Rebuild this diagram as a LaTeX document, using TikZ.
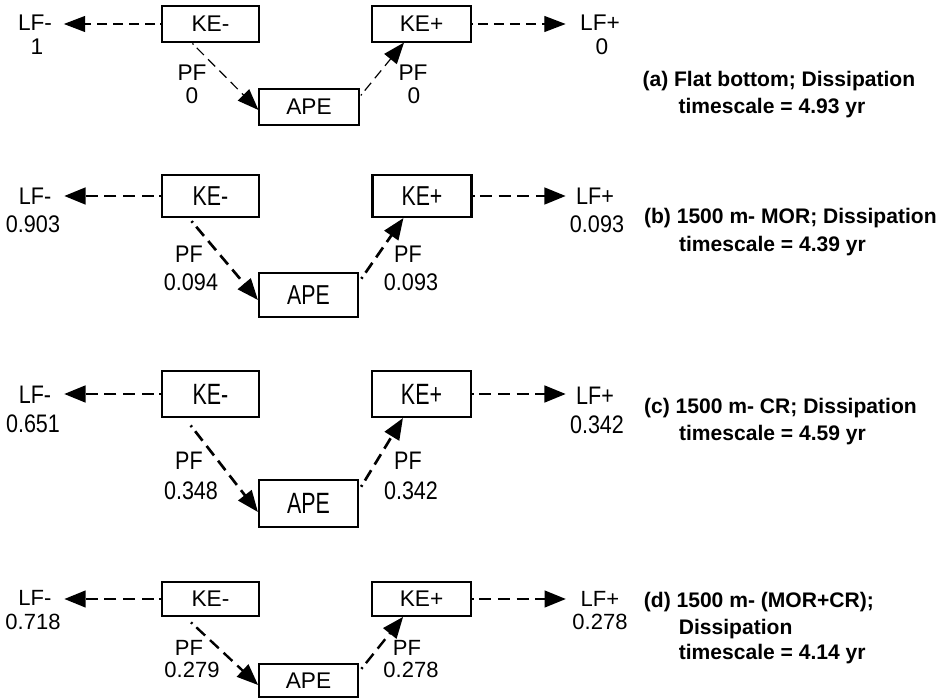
\documentclass[tikz,border=0pt]{standalone}
\usepackage{fontspec}
\setmainfont{Liberation Sans}
\newfontfamily\bboxf[FakeStretch=0.78]{Liberation Sans}
\newfontfamily\blabf[FakeStretch=0.9]{Liberation Sans}
\newfontfamily\cboxf[FakeStretch=0.73]{Liberation Sans}
\newfontfamily\clabf[FakeStretch=0.85]{Liberation Sans}
\usetikzlibrary{arrows.meta}
\tikzset{
  box/.style={draw, rectangle, inner sep=0pt},
  lab/.style={inner sep=0pt},
  capt/.style={inner sep=0pt, anchor=base west, font=\bfseries\fontsize{15.8pt}{19pt}\selectfont},
  flowdash/.style={dash pattern=on 1.2pt off 3.5pt on 7.5pt off 4.5pt on 7.5pt off 4.5pt on 7.5pt off 4.5pt on 7.5pt off 4.5pt on 7.5pt off 4.5pt on 7.5pt off 4.5pt on 7.5pt off 4.5pt on 7.5pt off 4.5pt},
  flowdashb/.style={dash pattern=on 1.5pt off 4pt on 9pt off 5pt on 9pt off 5pt on 9pt off 5pt on 9pt off 5pt on 9pt off 5pt on 9pt off 5pt on 9pt off 5pt on 9pt off 5pt},
  flow/.style={flowdash, -{Triangle[length=16pt,width=12pt]}},
  flowb/.style={flowdashb, -{Triangle[length=16pt,width=12.5pt]}},
  afont/.style={font=\fontsize{17pt}{20pt}\selectfont},
  aboxfont/.style={font=\fontsize{17pt}{20pt}\selectfont},
  bfont/.style={font=\blabf\fontsize{18pt}{22pt}\selectfont},
  bboxfont/.style={font=\bboxf\fontsize{20.5pt}{24pt}\selectfont},
  cfont/.style={font=\clabf\fontsize{19pt}{22pt}\selectfont},
  cboxfont/.style={font=\cboxf\fontsize{22pt}{25pt}\selectfont},
  dfont/.style={font=\fontsize{16.5pt}{20pt}\selectfont},
  dboxfont/.style={font=\fontsize{17pt}{20pt}\selectfont},
}
\begin{document}
\begin{tikzpicture}[x=0.75pt,y=-0.75pt]
\useasboundingbox (0,0) rectangle (947,698);

% ---------------- panel (a)
\begin{scope}[line width=0.8pt]
\node[box, aboxfont, minimum width=72.75pt, minimum height=27pt] (aKEm) at (210.5,24) {KE-};
\node[box, aboxfont, minimum width=74.25pt, minimum height=27pt] (aKEp) at (421.5,24) {KE+};
\node[box, aboxfont, minimum width=75pt, minimum height=27pt] (aAPE) at (309,107) {APE};
\node[lab, afont] (aLFm) at (35,23) {LF-};
\node[lab, afont] (aLFmv) at (37,47) {1};
\node[lab, afont] (aLFp) at (600,23) {LF+};
\node[lab, afont] (aLFpv) at (602,47) {0};
\node[lab, afont] (aPFl) at (192,73) {PF};
\node[lab, afont] (aPFlv) at (192,96) {0};
\node[lab, afont] (aPFr) at (413,73) {PF};
\node[lab, afont] (aPFrv) at (414,96) {0};
\draw[flow, line width=0.9pt, shorten >=8.5pt] (aKEm.west) -- (aKEm.west -| aLFm.east);
\draw[flow, line width=0.9pt, shorten >=10.5pt] (aKEp.east) -- (aKEp.east -| aLFp.west);
\draw[flow, line width=0.9pt, shorten <=1pt] ([xshift=22.5pt]aKEm.south west) -- ([yshift=-2.25pt]aAPE.west);
\draw[flow, line width=0.9pt, shorten <=1.5pt] ([yshift=7.5pt]aAPE.east) -- ([xshift=24.4pt]aKEp.south west);
\node[capt] (acap1) at (642,86.5) {(a) Flat bottom; Dissipation};
\node[capt] (acap2) at (678,113.5) {timescale = 4.93 yr};
\end{scope}

% ---------------- panel (b)
\begin{scope}[line width=1.6pt]
\node[box, bboxfont, minimum width=72.75pt, minimum height=31.5pt] (bKEm) at (210.5,196) {KE-};
\node[box, bboxfont, minimum width=74.25pt, minimum height=31.5pt] (bKEp) at (422,196) {KE+};
\node[box, bboxfont, minimum width=74.25pt, minimum height=33pt] (bAPE) at (308.5,295) {APE};
\node[lab, bfont] (bLFm) at (35,196) {LF-};
\node[lab, bfont] (bLFmv) at (33,224) {0.903};
\node[lab, bfont] (bLFp) at (595,196) {LF+};
\node[lab, bfont] (bLFpv) at (597,224) {0.093};
\node[lab, bfont] (bPFl) at (189,254) {PF};
\node[lab, bfont] (bPFlv) at (191,282) {0.094};
\node[lab, bfont] (bPFr) at (408,254) {PF};
\node[lab, bfont] (bPFrv) at (411,282) {0.093};
\draw[flowb, line width=2pt, shorten >=9pt] (bKEm.west) -- (bKEm.west -| bLFm.east);
\draw[flowb, line width=2pt, shorten >=7pt] (bKEp.east) -- (bKEp.east -| bLFp.west);
\draw[flowb, line width=2pt, shorten <=3pt] ([xshift=21pt]bKEm.south west) -- ([yshift=-3.75pt]bAPE.west);
\draw[flowb, line width=2pt, shorten <=3pt] ([yshift=9.75pt]bAPE.east) -- ([xshift=24pt]bKEp.south west);
\node[capt] (bcap1) at (643,223.5) {(b) 1500 m- MOR; Dissipation};
\node[capt] (bcap2) at (678,251.5) {timescale = 4.39 yr};
\end{scope}

% ---------------- panel (c)
\begin{scope}[line width=1.6pt]
\node[box, cboxfont, minimum width=72.75pt, minimum height=34.5pt] (cKEm) at (210.5,394) {KE-};
\node[box, cboxfont, minimum width=74.25pt, minimum height=34.5pt] (cKEp) at (421.5,394) {KE+};
\node[box, cboxfont, minimum width=74.25pt, minimum height=35.25pt] (cAPE) at (308.5,503.5) {APE};
\node[lab, cfont] (cLFm) at (35,395) {LF-};
\node[lab, cfont] (cLFmv) at (33,424) {0.651};
\node[lab, cfont] (cLFp) at (595,396) {LF+};
\node[lab, cfont] (cLFpv) at (597,425) {0.342};
\node[lab, cfont] (cPFl) at (189,461) {PF};
\node[lab, cfont] (cPFlv) at (191,491) {0.348};
\node[lab, cfont] (cPFr) at (408,461) {PF};
\node[lab, cfont] (cPFrv) at (411,491) {0.342};
\draw[flowb, line width=2pt, shorten >=9pt] (cKEm.west) -- (cKEm.west -| cLFm.east);
\draw[flowb, line width=2pt, shorten >=7pt] (cKEp.east) -- (cKEp.east -| cLFp.west);
\draw[flowb, line width=2pt, shorten <=7pt] ([xshift=18pt]cKEm.south west) -- ([yshift=-6.4pt]cAPE.west);
\draw[flowb, line width=2pt, shorten <=3pt] ([yshift=10pt]cAPE.east) -- ([xshift=24pt]cKEp.south west);
\node[capt] (ccap1) at (643,414) {(c) 1500 m- CR; Dissipation};
\node[capt] (ccap2) at (678,441) {timescale = 4.59 yr};
\end{scope}

% ---------------- panel (d)
\begin{scope}[line width=1.3pt]
\node[box, dboxfont, minimum width=72.75pt, minimum height=25.5pt] (dKEm) at (210.5,599) {KE-};
\node[box, dboxfont, minimum width=74.25pt, minimum height=25.5pt] (dKEp) at (421.5,599) {KE+};
\node[box, dboxfont, minimum width=74.25pt, minimum height=24.75pt] (dAPE) at (308.5,680.5) {APE};
\node[lab, dfont] (dLFm) at (35,598) {LF-};
\node[lab, dfont] (dLFmv) at (33,622) {0.718};
\node[lab, dfont] (dLFp) at (600,599) {LF+};
\node[lab, dfont] (dLFpv) at (600,622) {0.278};
\node[lab, dfont] (dPFl) at (189,648) {PF};
\node[lab, dfont] (dPFlv) at (192,670) {0.279};
\node[lab, dfont] (dPFr) at (407,648) {PF};
\node[lab, dfont] (dPFrv) at (411,670) {0.278};
\draw[flowb, line width=1.8pt, shorten >=9pt] (dKEm.west) -- (dKEm.west -| dLFm.east);
\draw[flowb, line width=1.8pt, shorten >=10.5pt] (dKEp.east) -- (dKEp.east -| dLFp.west);
\draw[flowb, line width=1.8pt, shorten <=6pt] ([xshift=18pt]dKEm.south west) -- ([yshift=-3.4pt]dAPE.west);
\draw[flowb, line width=1.8pt, shorten <=3pt] ([yshift=6.4pt]dAPE.east) -- ([xshift=24pt]dKEp.south west);
\node[capt] (dcap1) at (643,607.5) {(d) 1500 m- (MOR+CR);};
\node[capt] (dcap2) at (678,634.5) {Dissipation};
\node[capt] (dcap3) at (678,659.5) {timescale = 4.14 yr};
\end{scope}
\end{tikzpicture}
\end{document}
